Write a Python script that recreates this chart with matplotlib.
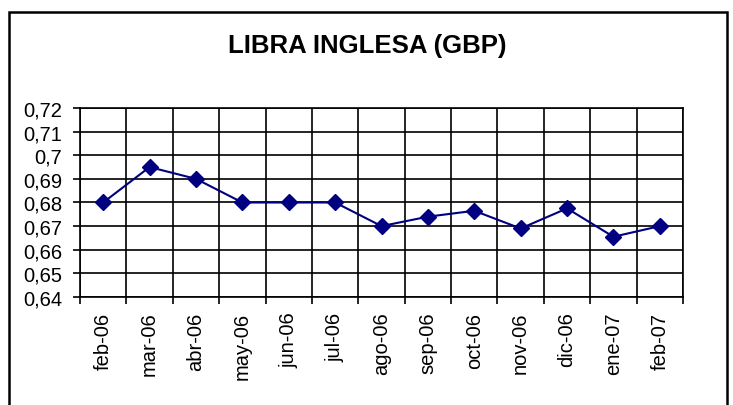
import numpy as np
from matplotlib import pyplot as plt
from matplotlib.patches import Rectangle

months = ["feb-06", "mar-06", "abr-06", "may-06", "jun-06", "jul-06", "ago-06",
          "sep-06", "oct-06", "nov-06", "dic-06", "ene-07", "feb-07"]
gbp = [0.680, 0.695, 0.690, 0.680, 0.680, 0.680, 0.670,
       0.674, 0.6765, 0.669, 0.6775, 0.6655, 0.670]
y_ticks = [0.64, 0.65, 0.66, 0.67, 0.68, 0.69, 0.70, 0.71, 0.72]

plt.rcParams["font.family"] = ["Liberation Sans", "DejaVu Sans"]

fig = plt.figure(figsize=(7.33, 4.06), dpi=100)
ax = fig.add_axes([80 / 733, 1 - 298 / 406, 603 / 733, 189 / 406])

x = np.arange(len(months))
ax.plot(x, gbp, "-", color="#000080", lw=1.5, marker="D", ms=8,
        markerfacecolor="#000080", markeredgecolor="#000080", zorder=3)

ax.set_xlim(-0.5, len(months) - 0.5)
ax.set_ylim(0.64, 0.72)

# category labels at the centres, tick marks / grid at the boundaries
ax.set_xticks(x)
ax.set_xticklabels(months, rotation=90, fontsize=14.5, va="top")
ax.tick_params(axis="x", which="major", length=0, pad=10.5)
ax.set_xticks(np.arange(len(months) + 1) - 0.5, minor=True)
ax.tick_params(axis="x", which="minor", length=5, width=1.2, direction="out")
ax.grid(True, which="minor", axis="x", color="black", lw=1.2)

ax.set_yticks(y_ticks)
ax.set_yticklabels([f"{v:g}".replace(".", ",") for v in y_ticks], fontsize=14.5)
ax.tick_params(axis="y", length=5, width=1.2, direction="out", pad=8)
ax.grid(True, which="major", axis="y", color="black", lw=1.2)

for s in ax.spines.values():
    s.set_linewidth(1.2)
    s.set_color("black")

fig.text(367 / 733, 1 - 46 / 406, "LIBRA INGLESA (GBP)", ha="center", va="center",
         fontsize=18.5, fontweight="bold")

# outer chart frame (bottom edge falls below the image)
fig.patches.append(Rectangle((9 / 733, -0.1), 718 / 733, 1.1 - 13 / 406,
                             transform=fig.transFigure, fill=False,
                             edgecolor="black", lw=1.8))

fig.savefig("out.png", dpi=100)
